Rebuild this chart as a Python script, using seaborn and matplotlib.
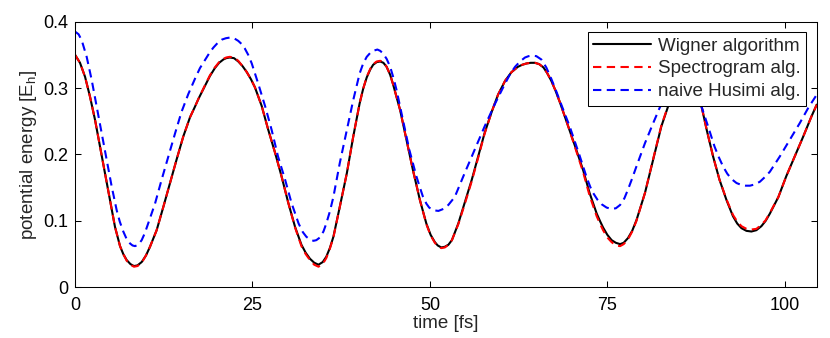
import matplotlib
matplotlib.use("Agg")
import matplotlib.pyplot as plt
import seaborn as sns

# values (time in fs, energy in E_h)
t_wigner = [0.0, 0.7, 1.41, 2.11, 2.82, 3.52, 4.23, 4.93, 5.63, 6.34,
            6.8, 7.28, 7.8, 8.3, 8.8, 9.39, 10.0, 10.56, 11.5, 12.44,
            13.38, 14.3, 15.25, 16.2, 16.9, 17.4, 18.3, 19.0, 19.7, 20.3,
            20.9, 21.3, 21.8, 22.4, 23.0, 23.6, 24.2, 24.8, 25.35, 26.3,
            27.2, 28.2, 29.1, 30.05, 31.0, 31.9, 32.5, 33.1, 33.7, 34.3,
            34.9, 35.4, 35.9, 36.4, 37.3, 38.3, 39.2, 40.1, 40.6, 41.1,
            41.6, 42.0, 42.5, 43.0, 43.45, 43.9, 44.4, 44.8, 45.8, 46.7,
            47.6, 48.6, 49.5, 50.1, 50.7, 51.1, 51.6, 52.1, 52.6, 53.1,
            54.0, 54.9, 55.9, 56.8, 57.7, 58.7, 59.6, 60.6, 61.5, 62.4,
            63.0, 63.6, 64.2, 64.8, 65.4, 66.0, 66.5, 67.1, 67.7, 68.3,
            69.5, 70.5, 71.6, 72.5, 73.5, 74.0, 74.4, 75.0, 75.6, 76.2,
            76.8, 77.3, 77.9, 78.5, 79.1, 80.3, 81.45, 82.6, 83.8, 84.4,
            85.0, 86.0, 87.1, 87.7, 88.3, 89.0, 89.9, 90.8, 91.8, 92.7,
            93.3, 93.9, 94.6, 95.3, 96.0, 96.7, 97.3, 97.9, 99.1, 100.2,
            101.4, 102.6, 103.75, 104.5]
e_wigner = [0.350, 0.338, 0.317, 0.287, 0.252, 0.212, 0.172, 0.131, 0.091, 0.062,
            0.050, 0.041, 0.035, 0.032, 0.033, 0.038, 0.048, 0.061, 0.086, 0.121,
            0.157, 0.192, 0.227, 0.256, 0.272, 0.284, 0.303, 0.318, 0.330, 0.338,
            0.343, 0.345, 0.346, 0.345, 0.340, 0.333, 0.324, 0.313, 0.301, 0.273,
            0.238, 0.202, 0.167, 0.127, 0.091, 0.064, 0.052, 0.043, 0.037, 0.034,
            0.038, 0.046, 0.059, 0.076, 0.121, 0.172, 0.227, 0.277, 0.299, 0.316,
            0.328, 0.335, 0.339, 0.340, 0.338, 0.332, 0.320, 0.306, 0.267, 0.222,
            0.177, 0.131, 0.096, 0.079, 0.068, 0.063, 0.060, 0.061, 0.064, 0.071,
            0.096, 0.127, 0.162, 0.197, 0.232, 0.264, 0.290, 0.311, 0.324, 0.332,
            0.335, 0.337, 0.338, 0.338, 0.336, 0.331, 0.323, 0.311, 0.296, 0.279,
            0.242, 0.211, 0.176, 0.142, 0.111, 0.099, 0.090, 0.079, 0.071, 0.067,
            0.065, 0.067, 0.074, 0.085, 0.101, 0.142, 0.192, 0.242, 0.280, 0.296,
            0.307, 0.315, 0.303, 0.290, 0.271, 0.237, 0.197, 0.162, 0.131, 0.107,
            0.096, 0.089, 0.085, 0.084, 0.086, 0.092, 0.100, 0.111, 0.136, 0.167,
            0.197, 0.227, 0.257, 0.275]

t_spectro = list(t_wigner)
e_spectro = [0.350, 0.338, 0.317, 0.287, 0.252, 0.212, 0.172, 0.131, 0.091, 0.062,
             0.050, 0.040, 0.034, 0.031, 0.032, 0.037, 0.048, 0.061, 0.086, 0.121,
             0.157, 0.192, 0.227, 0.256, 0.272, 0.284, 0.304, 0.319, 0.331, 0.339,
             0.344, 0.346, 0.347, 0.346, 0.341, 0.333, 0.324, 0.313, 0.301, 0.273,
             0.238, 0.202, 0.167, 0.127, 0.090, 0.062, 0.050, 0.041, 0.034, 0.031,
             0.035, 0.044, 0.058, 0.075, 0.121, 0.172, 0.227, 0.277, 0.299, 0.317,
             0.329, 0.336, 0.340, 0.341, 0.339, 0.332, 0.320, 0.306, 0.267, 0.222,
             0.177, 0.131, 0.095, 0.078, 0.067, 0.062, 0.059, 0.060, 0.064, 0.071,
             0.095, 0.125, 0.160, 0.195, 0.231, 0.264, 0.290, 0.311, 0.324, 0.332,
             0.335, 0.337, 0.338, 0.338, 0.336, 0.331, 0.323, 0.311, 0.296, 0.279,
             0.242, 0.209, 0.173, 0.138, 0.107, 0.095, 0.086, 0.075, 0.068, 0.063,
             0.062, 0.065, 0.072, 0.084, 0.100, 0.142, 0.193, 0.243, 0.281, 0.296,
             0.307, 0.315, 0.303, 0.290, 0.271, 0.237, 0.197, 0.162, 0.132, 0.109,
             0.099, 0.092, 0.088, 0.087, 0.088, 0.094, 0.101, 0.112, 0.136, 0.167,
             0.197, 0.227, 0.257, 0.275]

t_husimi = [0.0, 0.5, 0.94, 1.64, 2.35, 3.05, 3.76, 4.46, 5.16, 5.87,
            6.3, 6.8, 7.3, 7.75, 8.1, 8.45, 8.9, 9.39, 9.85, 10.3,
            11.27, 12.2, 13.15, 14.1, 15.0, 15.96, 16.9, 17.6, 18.3, 19.0,
            19.5, 20.1, 20.7, 21.25, 21.8, 22.4, 23.0, 23.5, 23.9, 24.4,
            24.9, 25.8, 26.8, 27.7, 28.6, 29.6, 30.5, 31.5, 32.1, 32.6,
            33.1, 33.6, 34.0, 34.5, 35.0, 35.4, 35.9, 36.4, 37.3, 38.3,
            39.2, 40.1, 40.6, 41.1, 41.6, 42.0, 42.6, 43.0, 43.4, 43.9,
            44.4, 44.9, 45.3, 46.2, 47.1, 48.1, 48.6, 49.0, 49.5, 49.9,
            50.5, 51.2, 51.9, 52.6, 53.5, 54.9, 56.3, 57.7, 59.2, 60.6,
            61.3, 62.0, 62.7, 63.4, 63.9, 64.4, 65.0, 65.7, 66.4, 67.1,
            67.7, 68.3, 69.7, 71.1, 72.1, 72.6, 73.0, 73.6, 74.2, 74.9,
            75.6, 76.2, 76.8, 77.4, 77.9, 78.5, 79.1, 80.3, 81.45, 82.4,
            83.5, 84.5, 85.4, 86.4, 87.4, 88.3, 89.2, 90.1, 90.7, 91.3,
            91.9, 92.5, 93.2, 93.9, 94.5, 95.1, 95.8, 96.5, 97.2, 97.9,
            99.3, 100.7, 102.1, 103.3, 104.5]
e_husimi = [0.385, 0.381, 0.372, 0.347, 0.312, 0.272, 0.232, 0.192, 0.152, 0.116,
            0.099, 0.084, 0.072, 0.066, 0.063, 0.062, 0.064, 0.071, 0.082, 0.096,
            0.126, 0.162, 0.197, 0.232, 0.264, 0.291, 0.314, 0.330, 0.342, 0.354,
            0.361, 0.368, 0.373, 0.375, 0.376, 0.375, 0.371, 0.366, 0.360, 0.350,
            0.337, 0.307, 0.272, 0.237, 0.197, 0.162, 0.127, 0.096, 0.083, 0.076,
            0.072, 0.070, 0.071, 0.075, 0.084, 0.096, 0.114, 0.136, 0.187, 0.237,
            0.282, 0.322, 0.337, 0.347, 0.353, 0.356, 0.358, 0.356, 0.352, 0.344,
            0.332, 0.314, 0.297, 0.252, 0.207, 0.167, 0.150, 0.137, 0.126, 0.120,
            0.116, 0.115, 0.118, 0.124, 0.136, 0.172, 0.207, 0.242, 0.277, 0.307,
            0.321, 0.332, 0.340, 0.346, 0.348, 0.349, 0.348, 0.343, 0.331, 0.314,
            0.298, 0.281, 0.242, 0.198, 0.165, 0.151, 0.142, 0.132, 0.125, 0.120,
            0.118, 0.119, 0.124, 0.134, 0.147, 0.164, 0.182, 0.217, 0.247, 0.271,
            0.292, 0.305, 0.310, 0.305, 0.292, 0.271, 0.242, 0.212, 0.196, 0.182,
            0.171, 0.163, 0.157, 0.154, 0.153, 0.153, 0.155, 0.159, 0.166, 0.174,
            0.197, 0.222, 0.247, 0.270, 0.290]

labels = ["Wigner algorithm", "Spectrogram alg.", "naive Husimi alg."]
x_ticks = [0, 25, 50, 75, 100]
y_ticks = [0, 0.1, 0.2, 0.3, 0.4]
y_ticklabels = ['0', '0.1', '0.2', '0.3', '0.4']

sns.set_style("ticks")
plt.rcParams['font.family'] = ['Liberation Sans', 'DejaVu Sans']
plt.rcParams['mathtext.fontset'] = 'custom'
plt.rcParams['mathtext.rm'] = 'Liberation Sans'
plt.rcParams['mathtext.it'] = 'Liberation Sans'
plt.rcParams['lines.dashed_pattern'] = [4, 2.6]

fig = plt.figure(figsize=(8.3, 3.38), dpi=100)
ax = fig.add_axes([0.0904, 0.150, 0.8936, 0.786])

sns.lineplot(x=t_wigner, y=e_wigner, color='k', lw=1.5, label=labels[0], ax=ax)
sns.lineplot(x=t_spectro, y=e_spectro, color='r', lw=1.5, linestyle='--', label=labels[1], ax=ax)
sns.lineplot(x=t_husimi, y=e_husimi, color='b', lw=1.5, linestyle='--', label=labels[2], ax=ax)

ax.set_xlim(0, 104.5)
ax.set_ylim(0, 0.4)
ax.set_xticks(x_ticks)
ax.set_yticks(y_ticks)
ax.set_yticklabels(y_ticklabels)
ax.tick_params(direction='in', top=True, right=True, length=4, width=0.75,
               labelsize=13, colors='k')
ax.tick_params(axis='x', pad=7)
ax.tick_params(axis='y', pad=5)
for s in ax.spines.values():
    s.set_linewidth(0.75)
    s.set_color('k')

ax.set_xlabel('time [fs]', fontsize=13.5, labelpad=1)
ax.set_ylabel('potential energy [E$_\\mathrm{h}$]', fontsize=13.5, labelpad=3)

leg = ax.legend(loc='upper right', fontsize=13.5, frameon=True, fancybox=False,
                framealpha=1, edgecolor='k', handlelength=3.1, labelspacing=0.3,
                borderaxespad=0.55, borderpad=0.3, handletextpad=0.35)
leg.get_frame().set_linewidth(0.75)

fig.savefig('out.png', dpi=100)
